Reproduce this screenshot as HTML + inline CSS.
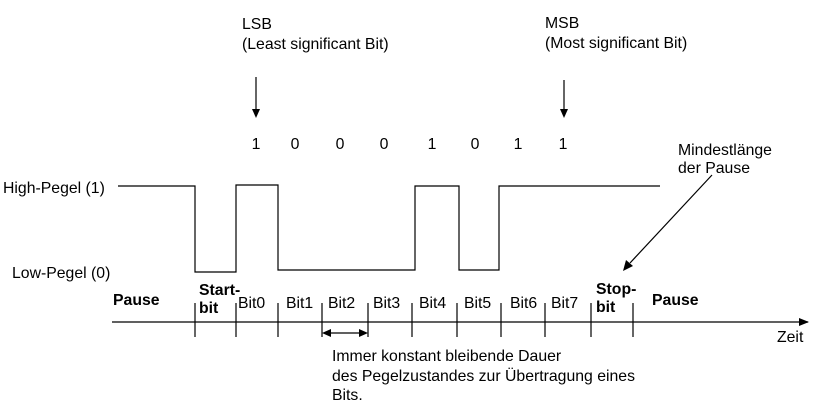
<!DOCTYPE html>
<html><head><meta charset="utf-8"><style>
html,body{margin:0;padding:0;background:#fff;}
svg{display:block;}
text{font-family:"Liberation Sans",Arial,sans-serif;font-size:15.8px;fill:#000;}
.b{font-weight:bold;}
</style></head><body>
<svg width="822" height="407" viewBox="0 0 822 407" xmlns="http://www.w3.org/2000/svg">
<defs>
<marker id="ah" markerWidth="10" markerHeight="10" refX="9" refY="5" orient="auto" markerUnits="userSpaceOnUse">
<path d="M0,1 L10,5 L0,9 z" fill="#000"/></marker>
</defs>
<g stroke="#000" stroke-width="1.2" fill="none">
<polyline points="118,186 195,186 195,272 236,272 236,185 278,185 278,270 415,270 415,186 459,186 459,270 499,270 499,186 660,186"/>
<line x1="112" y1="322" x2="808" y2="322" marker-end="url(#ah)"/>
<line x1="195" y1="303" x2="195" y2="337"/>
<line x1="236" y1="303" x2="236" y2="337"/>
<line x1="278" y1="303" x2="278" y2="337"/>
<line x1="322" y1="303" x2="322" y2="337"/>
<line x1="368" y1="303" x2="368" y2="337"/>
<line x1="412" y1="303" x2="412" y2="337"/>
<line x1="457" y1="303" x2="457" y2="337"/>
<line x1="501" y1="303" x2="501" y2="337"/>
<line x1="545" y1="303" x2="545" y2="337"/>
<line x1="591" y1="303" x2="591" y2="337"/>
<line x1="633" y1="303" x2="633" y2="337"/>
<line x1="330" y1="333" x2="360" y2="333"/>
<line x1="256" y1="77" x2="256" y2="110"/>
<line x1="564" y1="80" x2="564" y2="110"/>
<line x1="712" y1="175" x2="630" y2="263"/>
</g>
<g fill="#000">
<path d="M322,333 L331,329 L331,337 z"/>
<path d="M368,333 L359,329 L359,337 z"/>
<path d="M252,109 L260,109 L256,118 z"/>
<path d="M560,109 L568,109 L564,118 z"/>
<path d="M623,271 L626,260 L633,266 z"/>
</g>
<text x="242" y="29">LSB</text>
<text x="242" y="49">(Least significant Bit)</text>
<text x="545" y="28">MSB</text>
<text x="545" y="48">(Most significant Bit)</text>
<g text-anchor="middle">
<text x="256" y="149">1</text><text x="295" y="149">0</text><text x="340" y="149">0</text><text x="384" y="149">0</text>
<text x="432" y="149">1</text><text x="475" y="149">0</text><text x="518" y="149">1</text><text x="563" y="149">1</text>
</g>
<text x="678" y="155">Mindestlänge</text>
<text x="678" y="173">der Pause</text>
<text x="3" y="193">High-Pegel (1)</text>
<text x="12" y="278">Low-Pegel (0)</text>
<text class="b" x="113" y="305">Pause</text>
<text class="b" x="199" y="295">Start-</text>
<text class="b" x="199" y="313">bit</text>
<text x="238" y="308">Bit0</text>
<text x="286" y="308">Bit1</text>
<text x="328" y="308">Bit2</text>
<text x="373" y="308">Bit3</text>
<text x="419" y="308">Bit4</text>
<text x="464" y="308">Bit5</text>
<text x="510" y="308">Bit6</text>
<text x="551" y="308">Bit7</text>
<text class="b" x="596" y="294">Stop-</text>
<text class="b" x="596" y="312">bit</text>
<text class="b" x="652" y="305">Pause</text>
<text x="777" y="342">Zeit</text>
<text x="332" y="361">Immer konstant bleibende Dauer</text>
<text x="332" y="381">des Pegelzustandes zur Übertragung eines</text>
<text x="332" y="400">Bits.</text>
</svg>
</body></html>
